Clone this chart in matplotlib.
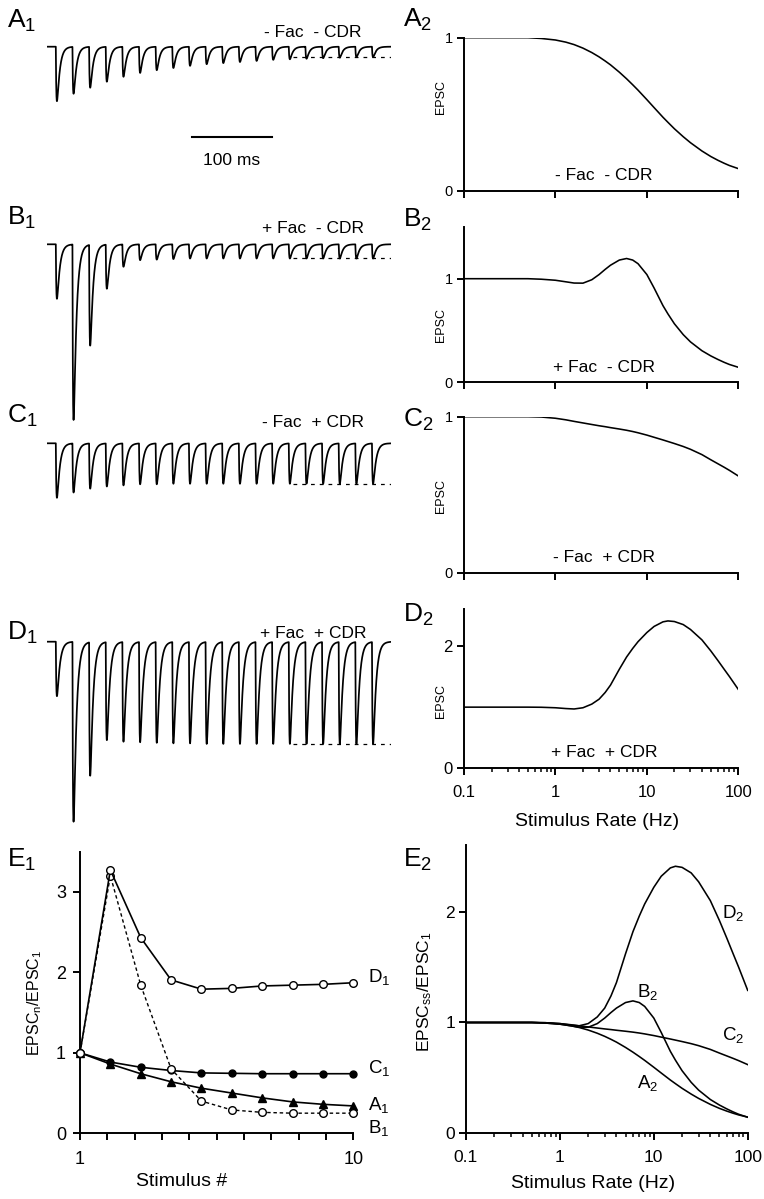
import matplotlib
matplotlib.use("Agg")
import matplotlib.pyplot as plt
import numpy as np
from matplotlib.ticker import LogLocator, NullLocator, NullFormatter

plt.rcParams["font.family"] = ["Liberation Sans", "DejaVu Sans"]
plt.rcParams["mathtext.fontset"] = "custom"
plt.rcParams["mathtext.rm"] = "Liberation Sans"
plt.rcParams["mathtext.it"] = "Liberation Sans:italic"
plt.rcParams["mathtext.bf"] = "Liberation Sans:bold"

# ---- E1: EPSC_n / EPSC_1 vs stimulus number ----
stim_num = [1, 2, 3, 4, 5, 6, 7, 8, 9, 10]
ratio_A1 = [1.0, 0.86, 0.74, 0.64, 0.56, 0.50, 0.44, 0.39, 0.36, 0.34]
ratio_B1 = [1.0, 3.20, 1.84, 0.80, 0.40, 0.29, 0.26, 0.25, 0.25, 0.25]
ratio_C1 = [1.0, 0.885, 0.82, 0.78, 0.75, 0.745, 0.74, 0.74, 0.74, 0.74]
ratio_D1 = [1.0, 3.27, 2.43, 1.905, 1.79, 1.80, 1.83, 1.84, 1.85, 1.87]

# ---- simulated EPSC trains (peak amplitude of each of 20 EPSCs) ----
train_A = [1.0, 0.86, 0.75, 0.64, 0.55, 0.48, 0.43, 0.39, 0.35, 0.32,
           0.30, 0.28, 0.26, 0.24, 0.23, 0.22, 0.21, 0.20, 0.19, 0.19]
train_B = [1.0, 3.22, 1.85, 0.81, 0.41, 0.29, 0.28, 0.27, 0.26, 0.26,
           0.26, 0.26, 0.26, 0.26, 0.26, 0.26, 0.26, 0.26, 0.26, 0.26]
train_C = [1.0, 0.90, 0.83, 0.79, 0.77, 0.75, 0.75, 0.74, 0.74, 0.74,
           0.74, 0.74, 0.74, 0.74, 0.74, 0.74, 0.74, 0.74, 0.74, 0.74]
train_D = [1.0, 3.30, 2.45, 1.80, 1.83, 1.84, 1.85, 1.86, 1.86, 1.87,
           1.87, 1.87, 1.87, 1.87, 1.87, 1.87, 1.87, 1.87, 1.87, 1.87]
steady_level = {"A": 0.19, "B": 0.26, "C": 0.74, "D": 1.87}
isi_ms = 20.8
first_stim_ms = 11.0
trace_len_ms = 430.0

# ---- steady-state EPSC vs stimulus rate ----
rate_hz = [0.1, 0.3, 0.5, 0.7, 1, 1.3, 1.6, 2, 2.5, 3, 3.5, 4, 5, 6, 7, 8,
           10, 12, 15, 17, 20, 25, 30, 40, 50, 60, 70, 80, 100]
ss_A2 = [1.0, 1.0, 1.0, 0.995, 0.985, 0.971, 0.955, 0.932, 0.903, 0.875,
         0.848, 0.823, 0.775, 0.732, 0.693, 0.658, 0.596, 0.544, 0.481, 0.448,
         0.406, 0.354, 0.315, 0.261, 0.225, 0.200, 0.181, 0.166, 0.146]
ss_B2 = [1.0, 1.0, 1.0, 0.995, 0.985, 0.97, 0.958, 0.957, 0.99, 1.04, 1.09,
         1.13, 1.18, 1.195, 1.18, 1.145, 1.04, 0.91, 0.74, 0.66, 0.565, 0.46,
         0.39, 0.305, 0.255, 0.22, 0.193, 0.172, 0.145]
ss_C2 = [1.0, 1.0, 1.0, 0.998, 0.99, 0.98, 0.97, 0.96, 0.95, 0.942, 0.936,
         0.93, 0.921, 0.913, 0.905, 0.897, 0.882, 0.868, 0.851, 0.841, 0.828,
         0.809, 0.791, 0.757, 0.724, 0.698, 0.676, 0.656, 0.62]
ss_D2 = [1.0, 1.0, 1.0, 0.998, 0.99, 0.977, 0.97, 0.99, 1.05, 1.13, 1.24,
         1.36, 1.62, 1.82, 1.96, 2.07, 2.22, 2.32, 2.395, 2.41, 2.40, 2.35,
         2.27, 2.10, 1.92, 1.76, 1.62, 1.50, 1.29]

W, H = 764, 1199
fig = plt.figure(figsize=(W / 100, H / 100), dpi=100)


def px_axes(x0, y0, x1, y1):
    return fig.add_axes([x0 / W, 1 - y1 / H, (x1 - x0) / W, (y1 - y0) / H])


def ftext(x, y, s, **kw):
    return fig.text(x / W, 1 - y / H, s, **kw)


def style(ax, fs):
    for s in ["top", "right"]:
        ax.spines[s].set_visible(False)
    for s in ["left", "bottom"]:
        ax.spines[s].set_linewidth(1.4)
    ax.tick_params(which="major", direction="out", length=5, width=1.4, labelsize=fs)
    ax.tick_params(which="minor", direction="out", length=3, width=1.1)
    ax.patch.set_visible(False)


# ---- traces (left column) ----
tau_rise, tau_decay = 0.9, 3.4
t = np.arange(0, trace_len_ms, 0.05)


def kernel(s):
    s = np.clip(s, 0, None)
    return (1 - np.exp(-s / tau_rise)) * np.exp(-s / tau_decay)


knorm = kernel(np.linspace(0, 20, 4001)).max()


def epsc_train(amps):
    y = np.zeros_like(t)
    for i, a in enumerate(amps):
        y -= a * kernel(t - (first_stim_ms + i * isi_ms)) / knorm
    return y


unit_px = 54.5
ms_px = 0.8
trace_x0 = 47
for key, amps, base in [("A", train_A, 46.7), ("B", train_B, 244.3),
                        ("C", train_C, 443.3), ("D", train_D, 641.7)]:
    ax = px_axes(trace_x0, base - 0.5 * unit_px, trace_x0 + trace_len_ms * ms_px,
                 base + 4 * unit_px)
    ax.set_xlim(0, trace_len_ms)
    ax.set_ylim(-4, 0.5)
    ax.axis("off")
    ax.plot(t, epsc_train(amps), color="black", lw=1.25)
    ax.hlines(-steady_level[key], 307, trace_len_ms, colors="black", lw=0.9,
              linestyles=(0, (3, 4)))
    if key == "A":
        ax.plot([181, 281], [-1.66, -1.66], color="black", lw=1.5)
        ax.text(231, -2.08, "100 ms", ha="center", va="center", fontsize=12.5)

cond_left = [("- Fac  - CDR", 37), ("+ Fac  - CDR", 233),
             ("- Fac  + CDR", 427), ("+ Fac  + CDR", 638)]
for s, yb in cond_left:
    ftext(313, yb, s, ha="center", va="baseline", fontsize=12.5)

# ---- right column: A2..D2 ----
right_specs = [
    ("A2", ss_A2, (37.7, 191.0), 1.0, [0, 1], "- Fac  - CDR", 180, 97),
    ("B2", ss_B2, (226.9, 382.3), 1.5, [0, 1], "+ Fac  - CDR", 372, 325),
    ("C2", ss_C2, (416.7, 572.7), 1.0, [0, 1], "- Fac  + CDR", 562, 496),
    ("D2", ss_D2, (609.3, 768.3), 2.6, [0, 2], "+ Fac  + CDR", 757, 701),
]
for name, vals, (ytop, ybot), ymax, yt, cond, cond_y, lab_y in right_specs:
    ax = px_axes(464, ytop, 738.3, ybot)
    ax.plot(rate_hz, vals, color="black", lw=1.15)
    ax.set_xscale("log")
    ax.set_xlim(0.1, 100)
    ax.set_ylim(0, ymax)
    ax.set_yticks(yt)
    ax.set_xticks([0.1, 1, 10, 100])
    last = name == "D2"
    style(ax, 12 if last else 10.5)
    ax.tick_params(axis="y", pad=3)
    if last:
        ax.xaxis.set_minor_locator(LogLocator(base=10, subs=np.arange(2, 10)))
        ax.xaxis.set_minor_formatter(NullFormatter())
        ax.set_xticklabels(["0.1", "1", "10", "100"])
        ax.tick_params(axis="x", pad=7)
    else:
        ax.xaxis.set_minor_locator(NullLocator())
        ax.set_xticklabels([])
    ftext(604, cond_y, cond, ha="center", va="baseline", fontsize=12.5)
    ftext(441, lab_y, "EPSC", rotation=90, ha="center", va="center", fontsize=9)
ftext(597, 821, "Stimulus Rate (Hz)", ha="center", va="center", fontsize=14)

# ---- E1 ----
ax = px_axes(80, 851.5, 353.3, 1133.3)
ax.plot(stim_num, ratio_C1, color="black", lw=1.2, marker="o", ms=5,
        mfc="black", mec="black", clip_on=False, zorder=3)
ax.plot(stim_num, ratio_A1, color="black", lw=1.2, marker="^", ms=5.5,
        mfc="black", mec="black", clip_on=False, zorder=3)
ax.plot(stim_num, ratio_B1, color="black", lw=1.0, ls=(0, (2.5, 2)), marker="o",
        ms=5.5, mfc="white", mec="black", mew=1.0, clip_on=False, zorder=4)
ax.plot(stim_num, ratio_D1, color="black", lw=1.2, marker="o", ms=5.5,
        mfc="white", mec="black", mew=1.0, clip_on=False, zorder=5)
ax.set_xlim(1, 10)
ax.set_ylim(0, 3.5)
ax.set_yticks([0, 1, 2, 3])
ax.set_xticks(np.linspace(1, 10, 11))
ax.set_xticklabels(["1"] + [""] * 9 + ["10"])
style(ax, 13)
ax.tick_params(axis="x", pad=8)
ax.tick_params(axis="y", pad=5)
ftext(35, 1003, r"EPSC$_\mathrm{n}$/EPSC$_1$", rotation=90, ha="center",
      va="center", fontsize=11.5)
ftext(182, 1181, "Stimulus #", ha="center", va="center", fontsize=14)
for s, yb in [(r"$\mathrm{D}_1$", 982), (r"$\mathrm{C}_1$", 1073),
              (r"$\mathrm{A}_1$", 1110), (r"$\mathrm{B}_1$", 1133)]:
    ftext(368, yb, s, ha="left", va="baseline", fontsize=13.5)

# ---- E2 ----
ax = px_axes(466, 845.2, 747.7, 1133.3)
for vals in [ss_A2, ss_B2, ss_C2, ss_D2]:
    ax.plot(rate_hz, vals, color="black", lw=1.15)
ax.set_xscale("log")
ax.set_xlim(0.1, 100)
ax.set_ylim(0, 2.6)
ax.set_yticks([0, 1, 2])
ax.set_xticks([0.1, 1, 10, 100])
ax.xaxis.set_minor_locator(LogLocator(base=10, subs=np.arange(2, 10)))
ax.xaxis.set_minor_formatter(NullFormatter())
ax.set_xticklabels(["0.1", "1", "10", "100"])
style(ax, 12.5)
ax.tick_params(axis="x", pad=7)
ax.tick_params(axis="y", pad=3)
ftext(425, 992, r"EPSC$_\mathrm{ss}$/EPSC$_1$", rotation=90, ha="center",
      va="center", fontsize=12.5)
ftext(593, 1184, "Stimulus Rate (Hz)", ha="center", va="center", fontsize=14)
for s, x, yb in [(r"$\mathrm{D}_2$", 722, 918), (r"$\mathrm{B}_2$", 637, 997),
                 (r"$\mathrm{C}_2$", 722, 1040), (r"$\mathrm{A}_2$", 637, 1088)]:
    ftext(x, yb, s, ha="left", va="baseline", fontsize=13.5)

# ---- panel letters ----
for s, x, yb in [("A_1", 7, 28), ("B_1", 7, 225), ("C_1", 7, 423),
                 ("D_1", 7, 640), ("E_1", 7, 867),
                 ("A_2", 403, 27), ("B_2", 403, 227), ("C_2", 403, 427),
                 ("D_2", 403, 622), ("E_2", 403, 867)]:
    ftext(x, yb, r"$\mathrm{%s}_%s$" % (s[0], s[2]), ha="left", va="baseline",
          fontsize=19)

fig.savefig("out.png", dpi=100)
